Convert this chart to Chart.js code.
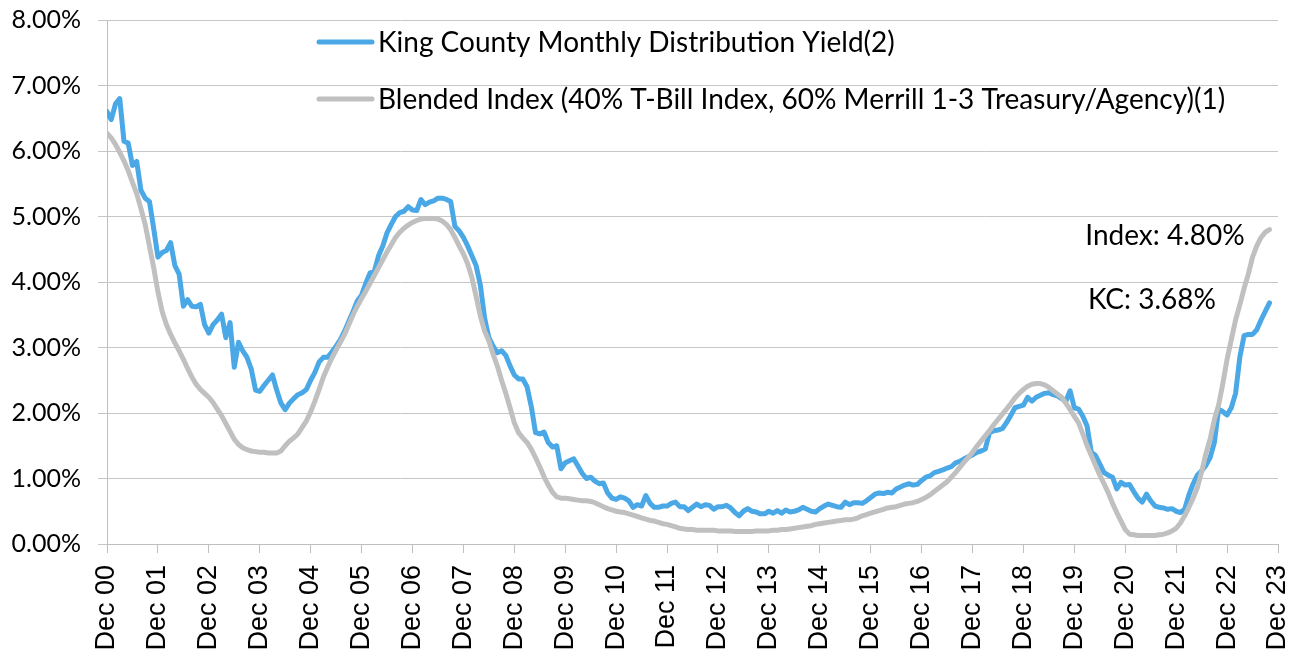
<!DOCTYPE html>
<html>
<head>
<meta charset="utf-8">
<script src="https://cdn.jsdelivr.net/npm/chart.js@4.4.1/dist/chart.umd.min.js"></script>
<style>
  html, body { margin: 0; padding: 0; background: #ffffff; }
  canvas { display: block; }
</style>
</head>
<body>
<canvas id="c" width="1296" height="656"></canvas>
<script>
// Tick labels (one per December, month index 0 = Dec 2000)
const yearLabels = ['Dec 00','Dec 01','Dec 02','Dec 03','Dec 04','Dec 05','Dec 06','Dec 07','Dec 08','Dec 09','Dec 10','Dec 11',
  'Dec 12','Dec 13','Dec 14','Dec 15','Dec 16','Dec 17','Dec 18','Dec 19','Dec 20','Dec 21','Dec 22','Dec 23'];

const seriesNames = ['King County Monthly Distribution Yield(2)',
  'Blended Index (40% T-Bill Index, 60% Merrill 1-3 Treasury/Agency)(1)'];

// King County monthly distribution yield (%), monthly from Dec 2000 (one row per year, Dec..Nov)
const kcYield = [
  6.60, 6.48, 6.72, 6.80, 6.15, 6.12, 5.78, 5.84, 5.40, 5.28, 5.23, 4.82,
  4.38, 4.45, 4.48, 4.60, 4.25, 4.12, 3.63, 3.73, 3.63, 3.62, 3.66, 3.35,
  3.22, 3.35, 3.42, 3.51, 3.15, 3.38, 2.70, 3.08, 2.95, 2.85, 2.67, 2.35,
  2.33, 2.42, 2.50, 2.58, 2.35, 2.15, 2.05, 2.15, 2.22, 2.28, 2.31, 2.36,
  2.50, 2.62, 2.78, 2.85, 2.85, 2.93, 3.02, 3.12, 3.25, 3.40, 3.55, 3.71,
  3.80, 3.98, 4.14, 4.16, 4.40, 4.55, 4.75, 4.88, 5.00, 5.06, 5.08, 5.15,
  5.10, 5.09, 5.26, 5.18, 5.22, 5.24, 5.28, 5.28, 5.26, 5.23, 4.85, 4.78,
  4.68, 4.55, 4.40, 4.25, 3.95, 3.45, 3.15, 3.02, 2.92, 2.95, 2.88, 2.72,
  2.58, 2.52, 2.52, 2.40, 2.10, 1.70, 1.68, 1.71, 1.55, 1.48, 1.50, 1.15,
  1.24, 1.27, 1.30, 1.19, 1.08, 1.00, 1.02, 0.96, 0.92, 0.93, 0.78, 0.70,
  0.68, 0.72, 0.70, 0.66, 0.56, 0.60, 0.58, 0.74, 0.62, 0.56, 0.56, 0.58,
  0.58, 0.62, 0.64, 0.57, 0.57, 0.51, 0.56, 0.61, 0.57, 0.60, 0.59, 0.53,
  0.57, 0.57, 0.59, 0.55, 0.48, 0.43, 0.50, 0.54, 0.50, 0.49, 0.46, 0.46,
  0.50, 0.47, 0.51, 0.47, 0.52, 0.49, 0.50, 0.52, 0.56, 0.53, 0.50, 0.49,
  0.54, 0.58, 0.61, 0.59, 0.57, 0.56, 0.64, 0.60, 0.63, 0.63, 0.62, 0.66,
  0.71, 0.76, 0.78, 0.77, 0.79, 0.78, 0.84, 0.87, 0.90, 0.92, 0.90, 0.91,
  0.97, 1.02, 1.04, 1.09, 1.11, 1.13, 1.16, 1.18, 1.24, 1.26, 1.30, 1.33,
  1.36, 1.40, 1.42, 1.45, 1.70, 1.73, 1.74, 1.76, 1.85, 1.96, 2.08, 2.10,
  2.12, 2.24, 2.18, 2.24, 2.27, 2.30, 2.31, 2.28, 2.26, 2.22, 2.18, 2.34,
  2.08, 2.06, 1.95, 1.80, 1.40, 1.35, 1.22, 1.09, 1.05, 1.02, 0.84, 0.94,
  0.90, 0.91, 0.80, 0.70, 0.64, 0.76, 0.66, 0.58, 0.56, 0.55, 0.53, 0.54,
  0.50, 0.48, 0.53, 0.75, 0.92, 1.05, 1.12, 1.20, 1.32, 1.55, 2.06, 2.02,
  1.97, 2.08, 2.30, 2.85, 3.18, 3.20, 3.20, 3.27, 3.42, 3.55, 3.68
];

// Blended index yield (%), monthly from Dec 2000
const blendedIndex = [
  6.27, 6.20, 6.10, 5.98, 5.85, 5.70, 5.52, 5.35, 5.12, 4.88, 4.55, 4.22,
  3.85, 3.55, 3.35, 3.20, 3.07, 2.95, 2.82, 2.68, 2.55, 2.44, 2.36, 2.30,
  2.24, 2.16, 2.06, 1.96, 1.84, 1.72, 1.60, 1.52, 1.47, 1.44, 1.42, 1.41,
  1.40, 1.40, 1.39, 1.39, 1.39, 1.42, 1.50, 1.57, 1.62, 1.68, 1.78, 1.88,
  2.02, 2.18, 2.36, 2.55, 2.70, 2.84, 2.96, 3.08, 3.20, 3.35, 3.50, 3.63,
  3.75, 3.86, 3.98, 4.10, 4.22, 4.34, 4.46, 4.57, 4.68, 4.76, 4.82, 4.87,
  4.91, 4.94, 4.96, 4.97, 4.97, 4.97, 4.96, 4.93, 4.88, 4.80, 4.68, 4.55,
  4.43, 4.28, 4.07, 3.78, 3.48, 3.25, 3.10, 2.90, 2.72, 2.50, 2.30, 2.08,
  1.85, 1.70, 1.62, 1.55, 1.45, 1.32, 1.18, 1.03, 0.90, 0.79, 0.72, 0.70,
  0.70, 0.69, 0.68, 0.67, 0.66, 0.66, 0.65, 0.63, 0.60, 0.57, 0.54, 0.52,
  0.50, 0.49, 0.48, 0.46, 0.44, 0.42, 0.40, 0.38, 0.36, 0.35, 0.33, 0.31,
  0.30, 0.28, 0.26, 0.24, 0.23, 0.22, 0.22, 0.21, 0.21, 0.21, 0.21, 0.21,
  0.20, 0.20, 0.20, 0.20, 0.19, 0.19, 0.19, 0.19, 0.19, 0.20, 0.20, 0.20,
  0.20, 0.21, 0.21, 0.22, 0.22, 0.23, 0.24, 0.25, 0.26, 0.27, 0.28, 0.30,
  0.31, 0.32, 0.33, 0.34, 0.35, 0.36, 0.37, 0.37, 0.38, 0.40, 0.43, 0.45,
  0.47, 0.49, 0.51, 0.53, 0.55, 0.56, 0.57, 0.59, 0.61, 0.62, 0.63, 0.65,
  0.68, 0.71, 0.75, 0.80, 0.85, 0.90, 0.95, 1.02, 1.09, 1.17, 1.25, 1.32,
  1.40, 1.49, 1.57, 1.65, 1.73, 1.82, 1.90, 1.98, 2.06, 2.14, 2.23, 2.30,
  2.36, 2.41, 2.44, 2.45, 2.45, 2.43, 2.39, 2.34, 2.29, 2.24, 2.15, 2.05,
  1.95, 1.85, 1.68, 1.50, 1.35, 1.20, 1.05, 0.92, 0.78, 0.62, 0.48, 0.35,
  0.22, 0.15, 0.14, 0.13, 0.13, 0.13, 0.13, 0.13, 0.14, 0.15, 0.17, 0.20,
  0.24, 0.32, 0.43, 0.56, 0.70, 0.86, 1.10, 1.38, 1.60, 1.90, 2.12, 2.45,
  2.82, 3.12, 3.42, 3.65, 3.90, 4.12, 4.38, 4.55, 4.68, 4.76, 4.80
];

const annotations = ['Index: 4.80%', 'KC: 3.68%'];

const BLUE = '#4aa8e6';
const GREY = '#c0c0c0';
const TEXT_FONT = 'Lato';
const AXIS_FONT = 'Liberation Sans';

const toPoints = arr => arr.map((v, i) => ({ x: i, y: v }));

const overlayPlugin = {
  id: 'overlay',
  afterDatasetsDraw(chart) {
    const ctx = chart.ctx;
    ctx.save();
    const items = [
      { label: chart.data.datasets[0].label, color: chart.data.datasets[0].borderColor, y: 42 },
      { label: chart.data.datasets[1].label, color: chart.data.datasets[1].borderColor, y: 99 }
    ];
    ctx.font = '28px ' + TEXT_FONT;
    ctx.textBaseline = 'middle';
    ctx.textAlign = 'left';
    items.forEach(it => {
      ctx.strokeStyle = it.color;
      ctx.lineWidth = 5;
      ctx.lineCap = 'round';
      ctx.beginPath();
      ctx.moveTo(319, it.y);
      ctx.lineTo(372, it.y);
      ctx.stroke();
      ctx.fillStyle = '#000000';
      ctx.fillText(it.label, 378, it.y + 1);
    });
    ctx.textAlign = 'center';
    ctx.fillText(annotations[0], 1165, 236);
    ctx.fillText(annotations[1], 1152, 300);
    ctx.restore();
  }
};

new Chart(document.getElementById('c'), {
  type: 'line',
  data: {
    datasets: [
      { label: seriesNames[0], data: toPoints(kcYield), borderColor: BLUE, order: 1 },
      { label: seriesNames[1], data: toPoints(blendedIndex), borderColor: GREY, order: 0 }
    ]
  },
  options: {
    responsive: false,
    animation: false,
    devicePixelRatio: 1,
    layout: { padding: { top: 20, right: 18, left: 0, bottom: 0 } },
    elements: {
      point: { radius: 0, hoverRadius: 0 },
      line: { borderWidth: 5, tension: 0, borderCapStyle: 'round', borderJoinStyle: 'round', fill: false }
    },
    plugins: {
      legend: { display: false },
      tooltip: { enabled: false }
    },
    scales: {
      x: {
        type: 'linear',
        min: 0,
        max: 276,
        afterFit: s => { s.height = 112; s.paddingLeft = 0; s.paddingRight = 0; },
        ticks: {
          stepSize: 12,
          autoSkip: false,
          maxRotation: 90,
          minRotation: 90,
          padding: 12,
          color: '#000000',
          font: { family: AXIS_FONT, size: 27 },
          callback: v => yearLabels[Math.round(v / 12)]
        },
        grid: { drawOnChartArea: false, drawTicks: true, tickLength: 9, color: '#bfbfbf' },
        border: { display: true, color: '#bfbfbf' }
      },
      y: {
        min: 0,
        max: 8,
        afterFit: s => { s.width = 107; s.paddingTop = 0; s.paddingBottom = 0; },
        ticks: {
          stepSize: 1,
          padding: 17,
          color: '#000000',
          font: { family: TEXT_FONT, size: 25 },
          callback: v => v.toFixed(2) + '%'
        },
        grid: { color: '#c6c6c6', tickLength: 9, lineWidth: 1 },
        border: { display: true, color: '#bfbfbf' }
      }
    }
  },
  plugins: [overlayPlugin]
});
</script>
</body>
</html>
